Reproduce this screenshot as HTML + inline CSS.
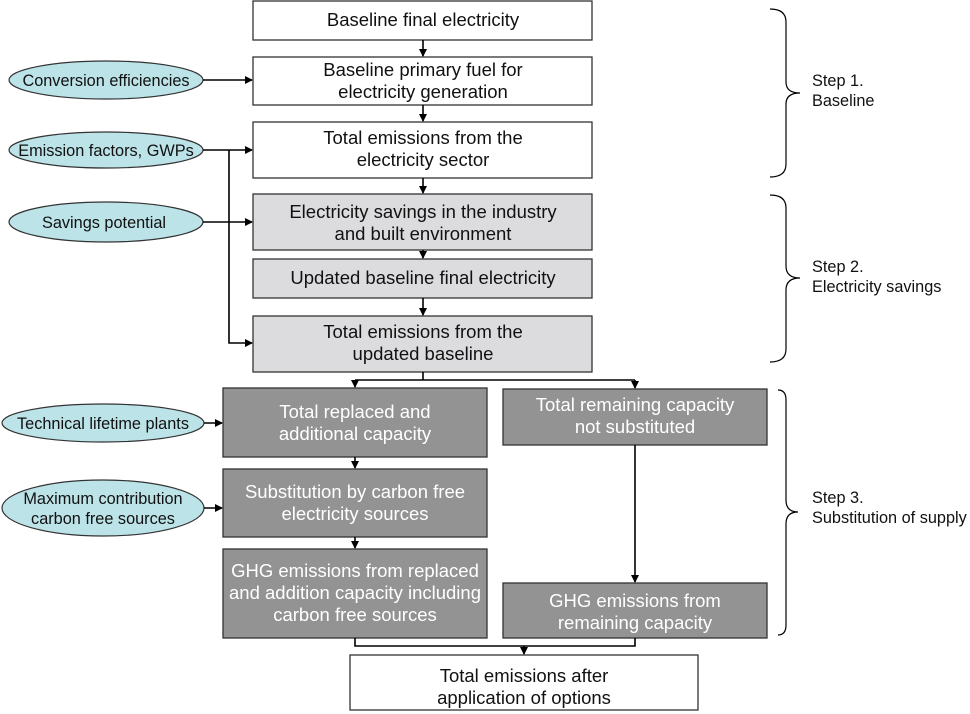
<!DOCTYPE html>
<html><head><meta charset="utf-8"><style>
html,body{margin:0;padding:0;background:#fff;}
svg{display:block;font-family:"Liberation Sans",Arial,sans-serif;}
</style></head><body>
<svg width="970" height="714" viewBox="0 0 970 714" xmlns="http://www.w3.org/2000/svg">
<defs>
<marker id="a" markerWidth="8" markerHeight="8" refX="7" refY="4" orient="auto" markerUnits="userSpaceOnUse">
<path d="M0,0 L8,4 L0,8 Z" fill="#000"/></marker>
</defs>
<g stroke="#333" stroke-width="1.3">
<rect x="253" y="1" width="339" height="39" fill="#fff"/>
<rect x="253" y="57" width="339" height="48" fill="#fff"/>
<rect x="253" y="122" width="339" height="56" fill="#fff"/>
<rect x="253" y="194" width="339" height="56" fill="#dcdcde"/>
<rect x="253" y="259" width="339" height="39" fill="#dcdcde"/>
<rect x="253" y="316" width="339" height="56" fill="#dcdcde"/>
<rect x="223" y="388" width="264" height="69" fill="#939393"/>
<rect x="223" y="469" width="264" height="68" fill="#939393"/>
<rect x="223" y="549" width="264" height="89" fill="#939393"/>
<rect x="503" y="389" width="264" height="56" fill="#939393"/>
<rect x="503" y="583" width="264" height="55" fill="#939393"/>
<rect x="350" y="655" width="348" height="55" fill="#fff"/>
</g>
<g fill="#bce3e8" stroke="#333" stroke-width="1.2">
<ellipse cx="106" cy="80" rx="97" ry="19"/>
<ellipse cx="106" cy="150" rx="97" ry="18"/>
<ellipse cx="106" cy="222" rx="97" ry="20"/>
<ellipse cx="103" cy="423" rx="101" ry="19"/>
<ellipse cx="103" cy="508" rx="101" ry="28"/>
</g>
<g stroke="#000" stroke-width="1.6" fill="none">
<line x1="423" y1="40" x2="423" y2="56" marker-end="url(#a)"/>
<line x1="423" y1="105" x2="423" y2="121" marker-end="url(#a)"/>
<line x1="423" y1="178" x2="423" y2="193" marker-end="url(#a)"/>
<line x1="423" y1="250" x2="423" y2="258" marker-end="url(#a)"/>
<line x1="423" y1="298" x2="423" y2="315" marker-end="url(#a)"/>
<line x1="203" y1="80" x2="252" y2="80" marker-end="url(#a)"/>
<line x1="203" y1="150" x2="252" y2="150" marker-end="url(#a)"/>
<line x1="203" y1="222" x2="252" y2="222" marker-end="url(#a)"/>
<polyline points="229,150 229,343 252,343" marker-end="url(#a)"/>
<line x1="423" y1="372" x2="423" y2="380"/>
<polyline points="355,380 635,380"/>
<line x1="355" y1="380" x2="355" y2="387" marker-end="url(#a)"/>
<line x1="635" y1="380" x2="635" y2="388" marker-end="url(#a)"/>
<line x1="204" y1="423" x2="222" y2="423" marker-end="url(#a)"/>
<line x1="204" y1="508" x2="222" y2="508" marker-end="url(#a)"/>
<line x1="355" y1="457" x2="355" y2="468" marker-end="url(#a)"/>
<line x1="355" y1="537" x2="355" y2="548" marker-end="url(#a)"/>
<line x1="635" y1="445" x2="635" y2="582" marker-end="url(#a)"/>
<polyline points="355,638 355,646 635,646 635,638"/>
<line x1="524" y1="646" x2="524" y2="654" marker-end="url(#a)"/>
</g>
<g stroke="#000" stroke-width="1.2" fill="none">
<path d="M770,9 Q786,9 786,22 L786,82 Q786,93 800,93 Q786,93 786,104 L786,164 Q786,177 770,177"/>
<path d="M770,195 Q786,195 786,208 L786,266 Q786,278 800,278 Q786,278 786,290 L786,349 Q786,362 770,362"/>
<path d="M778,390 Q786,390 786,400 L786,500 Q786,512 798,512 Q786,512 786,524 L786,625 Q786,635 778,635"/>
</g>
<g font-size="18.5" text-anchor="middle" fill="#111">
<text x="423" y="26">Baseline final electricity</text>
<text x="423" y="76">Baseline primary fuel for</text>
<text x="423" y="98">electricity generation</text>
<text x="423" y="144">Total emissions from the</text>
<text x="423" y="166">electricity sector</text>
<text x="423" y="218">Electricity savings in the industry</text>
<text x="423" y="240">and built environment</text>
<text x="423" y="284">Updated baseline final electricity</text>
<text x="423" y="338">Total emissions from the</text>
<text x="423" y="360">updated baseline</text>
<text x="524" y="682">Total emissions after</text>
<text x="524" y="704">application of options</text>
</g>
<g font-size="18.5" text-anchor="middle" fill="#fff">
<text x="355" y="418">Total replaced and</text>
<text x="355" y="440">additional capacity</text>
<text x="355" y="498">Substitution by carbon free</text>
<text x="355" y="520">electricity sources</text>
<text x="355" y="577">GHG emissions from replaced</text>
<text x="355" y="599">and addition capacity including</text>
<text x="355" y="621">carbon free sources</text>
<text x="635" y="411">Total remaining capacity</text>
<text x="635" y="433">not substituted</text>
<text x="635" y="607">GHG emissions from</text>
<text x="635" y="629">remaining capacity</text>
</g>
<g font-size="16.3" text-anchor="middle" fill="#111">
<text x="106" y="86">Conversion efficiencies</text>
<text x="106" y="156">Emission factors, GWPs</text>
<text x="104" y="228">Savings potential</text>
<text x="103" y="429">Technical lifetime plants</text>
<text x="103" y="504">Maximum contribution</text>
<text x="103" y="524">carbon free sources</text>
</g>
<g font-size="16.3" fill="#111">
<text x="812" y="86">Step 1.</text>
<text x="812" y="106">Baseline</text>
<text x="812" y="272">Step 2.</text>
<text x="812" y="292">Electricity savings</text>
<text x="812" y="503">Step 3.</text>
<text x="812" y="523">Substitution of supply</text>
</g>
</svg>
</body></html>
